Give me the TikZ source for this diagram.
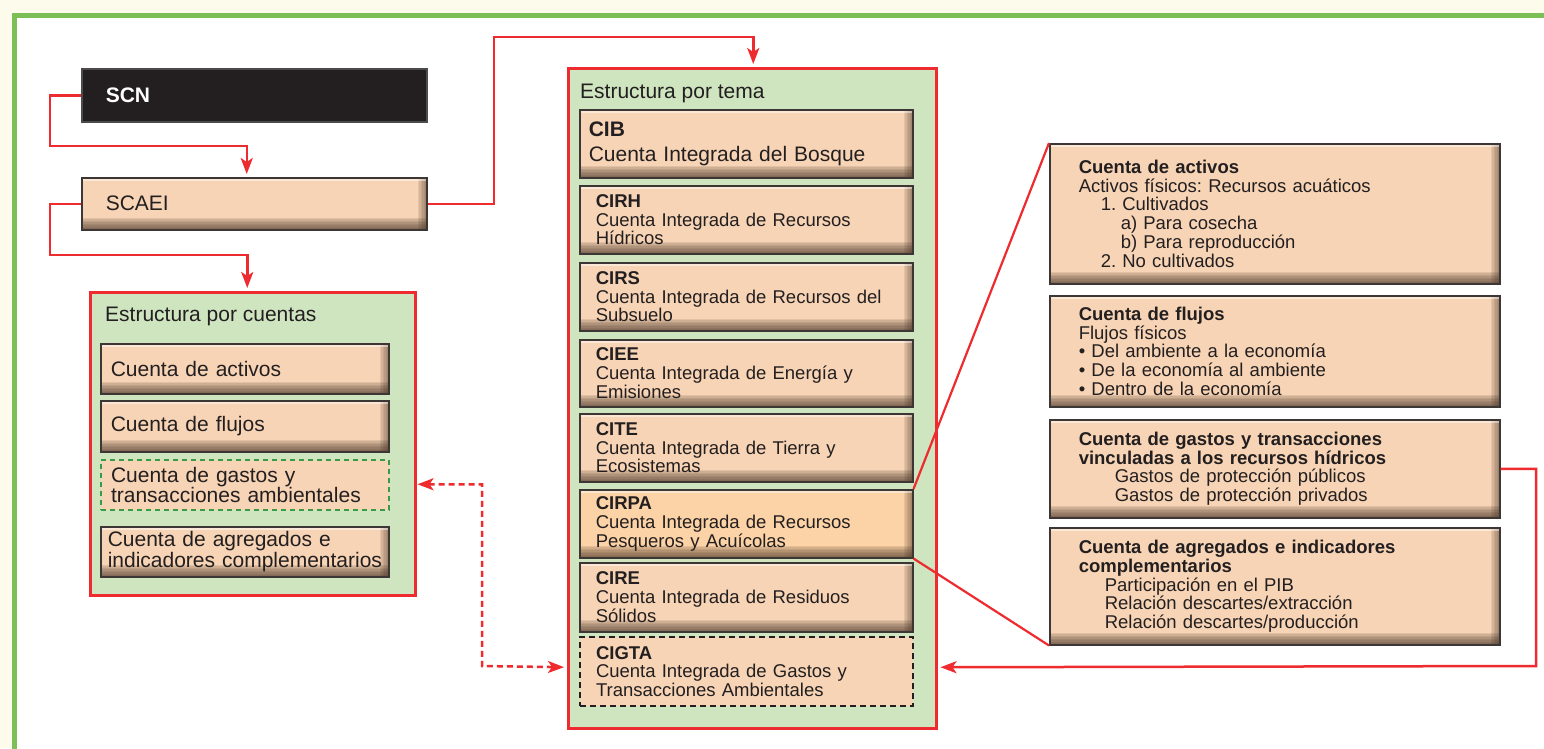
\documentclass[tikz,border=0pt]{standalone}
\usepackage{fontspec}
\setmainfont{Liberation Sans}
\usetikzlibrary{arrows.meta}
\definecolor{cream}{HTML}{FDFBEB}
\definecolor{framegreen}{HTML}{7BBF56}
\definecolor{peach}{HTML}{F7D4B5}
\definecolor{peachhl}{HTML}{FCD3A6}
\definecolor{bevdark}{HTML}{4A3528}
\definecolor{edgec}{HTML}{3C3634}
\definecolor{panel}{HTML}{CFE5C0}
\definecolor{redc}{HTML}{EE2B2E}
\definecolor{dgreen}{HTML}{3A9B46}
\definecolor{txt}{HTML}{231F20}
\definecolor{scnfill}{HTML}{231F20}
\frenchspacing
\hyphenpenalty=10000
\exhyphenpenalty=10000
\tikzset{
  bevel/.style={path picture={
    \foreach \i in {1,...,8} {
      \fill[bevdark, opacity=0.12] ([yshift=\i*1.5pt]path picture bounding box.south west) rectangle (path picture bounding box.south east);
    }
    \foreach \i in {1,...,6} {
      \fill[bevdark, opacity=0.10] ([xshift=-\i*1.5pt]path picture bounding box.north east) rectangle (path picture bounding box.south east);
    }
    \fill[white, opacity=.45] (path picture bounding box.north west) rectangle ([yshift=-3pt]path picture bounding box.north east);
  }},
  box/.style={anchor=north west, draw=edgec, line width=1.5pt, fill=peach, text=txt,
    align=left, inner ysep=0pt, bevel},
  flat/.style={anchor=north west, fill=peach, text=txt, align=left, inner ysep=0pt},
  panelbox/.style={anchor=north west, draw=redc, line width=2.5pt, fill=panel, inner sep=0pt},
  big/.style={font=\fontsize{21}{20.7}\selectfont},
  small/.style={font=\fontsize{18.5}{18.8}\selectfont},
  conn/.style={draw=redc, line width=2.5pt, -{Stealth[length=16pt,width=12pt,inset=4pt]}, shorten >=3pt},
  dconn/.style={draw=redc, line width=2.5pt, dash pattern=on 6pt off 4pt,
    {Stealth[length=16pt,width=12pt,inset=4pt]}-{Stealth[length=16pt,width=12pt,inset=4pt]},
    shorten <=1pt, shorten >=3pt},
  rline/.style={draw=redc, line width=2.2pt},
}
\begin{document}
\begin{tikzpicture}[x=1pt,y=-1pt]
\useasboundingbox (0,0) rectangle (1544,748);
\fill[cream] (0,0) rectangle (1544,748);
\fill[white] (14.5,15) rectangle (1544,748);
\draw[framegreen, line width=5pt] (14.5,760) -- (14.5,15) -- (1560,15);

% top-left system boxes
\node[anchor=north west, draw=black!70, line width=1.5pt, fill=scnfill, text=white,
  minimum width=345pt, minimum height=53pt, inner xsep=24pt, text width=297pt, align=left,
  font=\fontsize{21}{21}\selectfont\bfseries] (scn) at (81,68) {SCN};
\node[box, big, minimum width=345pt, minimum height=52pt, inner xsep=24pt, text width=297pt] (scaei) at (81,177) {SCAEI};

% Estructura por cuentas
\node[panelbox, minimum width=325pt, minimum height=303pt] (cuentas) at (89,291) {};
\node[anchor=base west, big, text=txt, inner sep=0pt] (cuentastitle) at (105,321.5) {Estructura por cuentas};
\node[box, big, minimum width=288pt, minimum height=50pt, inner xsep=10pt, text width=268pt] (lact) at (100,343) {Cuenta de activos};
\node[box, big, minimum width=288pt, minimum height=51pt, inner xsep=10pt, text width=268pt] (lflu) at (100,400) {Cuenta de flujos};
\node[flat, big, draw=dgreen, line width=2pt, dash pattern=on 5pt off 4pt, minimum width=288pt, minimum height=50pt, inner xsep=10pt, text width=268pt] (lgas) at (100,459) {Cuenta de gastos y\\transacciones ambientales};
\node[box, big, minimum width=288pt, minimum height=50pt, inner xsep=0pt, text width=288pt] (lagr) at (100,526) {\hspace*{7pt}Cuenta de agregados e\\\hspace*{7pt}indicadores complementarios};

% Estructura por tema
\node[panelbox, minimum width=368pt, minimum height=660pt] (tema) at (567,67) {};
\node[anchor=base west, big, text=txt, inner sep=0pt] (tematitle) at (580,98.5) {Estructura por tema};
\node[box, big, minimum width=333pt, minimum height=68pt, inner xsep=9pt, text width=315pt] (cib) at (579,109) {\textbf{CIB}\\[5pt]Cuenta Integrada del Bosque};
\node[box, small, minimum width=333pt, minimum height=68pt, inner xsep=16pt, text width=301pt] (cirh) at (579,185) {\textbf{CIRH}\\Cuenta Integrada de Recursos\\Hídricos};
\node[box, small, minimum width=333pt, minimum height=68pt, inner xsep=16pt, text width=301pt] (cirs) at (579,262) {\textbf{CIRS}\\Cuenta Integrada de Recursos del\\Subsuelo};
\node[box, small, minimum width=333pt, minimum height=67pt, inner xsep=16pt, text width=301pt] (ciee) at (579,339) {\textbf{CIEE}\\Cuenta Integrada de Energía y\\Emisiones};
\node[box, small, minimum width=333pt, minimum height=68pt, inner xsep=16pt, text width=301pt] (cite) at (579,413) {\textbf{CITE}\\Cuenta Integrada de Tierra y\\Ecosistemas};
\node[box, small, fill=peachhl, minimum width=333pt, minimum height=68pt, inner xsep=16pt, text width=301pt] (cirpa) at (579,489) {\textbf{CIRPA}\\Cuenta Integrada de Recursos\\Pesqueros y Acuícolas};
\node[box, small, minimum width=333pt, minimum height=69pt, inner xsep=16pt, text width=301pt] (cire) at (579,562) {\textbf{CIRE}\\Cuenta Integrada de Residuos\\Sólidos};
\node[flat, small, draw=txt, line width=2pt, dash pattern=on 6pt off 4pt, minimum width=333pt, minimum height=69pt, inner xsep=16pt, text width=301pt] (cigta) at (579,636) {\textbf{CIGTA}\\Cuenta Integrada de Gastos y\\Transacciones Ambientales};

% right detail boxes
\node[box, small, minimum width=450pt, minimum height=140pt, inner xsep=29pt, text width=392pt] (ract) at (1049,143) {\textbf{Cuenta de activos}\\Activos físicos: Recursos acuáticos\\\hspace*{22pt}1. Cultivados\\\hspace*{42pt}a) Para cosecha\\\hspace*{42pt}b) Para reproducción\\\hspace*{22pt}2. No cultivados};
\node[box, small, minimum width=450pt, minimum height=111pt, inner xsep=29pt, text width=392pt] (rflu) at (1049,295) {\textbf{Cuenta de flujos}\\Flujos físicos\\• Del ambiente a la economía\\• De la economía al ambiente\\• Dentro de la economía};
\node[box, small, minimum width=450pt, minimum height=98pt, inner xsep=29pt, text width=392pt] (rgas) at (1049,419) {\textbf{Cuenta de gastos y transacciones}\\\textbf{vinculadas a los recursos hídricos}\\\hspace*{36pt}Gastos de protección públicos\\\hspace*{36pt}Gastos de protección privados};
\node[box, small, minimum width=450pt, minimum height=117pt, inner xsep=29pt, text width=392pt] (ragr) at (1049,527) {\textbf{Cuenta de agregados e indicadores}\\\textbf{complementarios}\\\hspace*{26pt}Participación en el PIB\\\hspace*{26pt}Relación descartes/extracción\\\hspace*{26pt}Relación descartes/producción};

% connectors
\draw[conn] (scn.west) -| (50,146) -| ([xshift=-7.5pt]scaei.north);
\draw[conn] (scaei.west) -| (50,255) -| ([xshift=-5.5pt]cuentas.north);
\draw[conn] (scaei.east) -| (494,37) -| ([xshift=1pt]tema.north);
\draw[dconn] ([yshift=-40.5pt]cuentas.east) -| (482,666) -- ([yshift=-269pt]tema.west);
\draw[conn] (rgas.east) -| (1536,666) -- ([yshift=-269pt]tema.east);
\draw[rline] (cirpa.north east) -- (ract.north west);
\draw[rline] (cirpa.south east) -- (ragr.south west);
\end{tikzpicture}
\end{document}
